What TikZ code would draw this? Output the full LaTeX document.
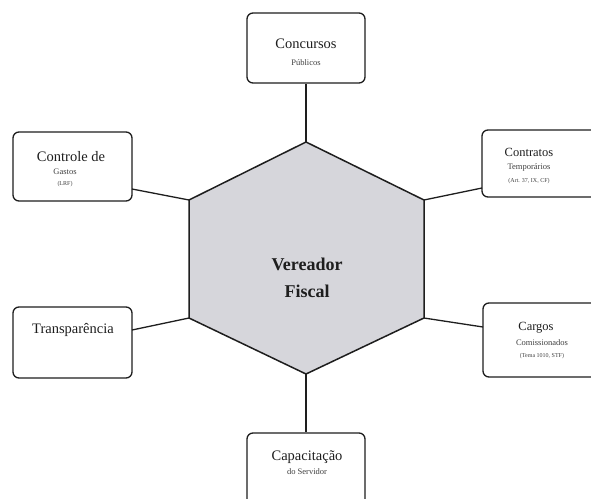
\documentclass[tikz,border=0pt]{standalone}
\usepackage{fontspec}
\setmainfont{Liberation Serif}
\definecolor{hexfill}{RGB}{214,214,219}
\definecolor{ink}{RGB}{30,30,30}
\begin{document}
\begin{tikzpicture}[x=1pt,y=-1pt,
  box/.style={draw=ink, line width=1.3pt, rounded corners=6pt, fill=white, inner sep=0pt},
  link/.style={draw=ink, line width=1.3pt},
  hexa/.style={draw=ink, line width=1.5pt, fill=hexfill, line join=miter},
  big/.style={font=\fontsize{14.5}{16}\selectfont, inner sep=0pt, text=ink},
  bigr/.style={font=\fontsize{12.5}{14}\selectfont, inner sep=0pt, text=ink},
  sub/.style={font=\fontsize{8.5}{10}\selectfont, inner sep=0pt, text=ink!85},
  tiny/.style={font=\fontsize{6}{7}\selectfont, inner sep=0pt, text=ink!85},
  main/.style={font=\bfseries\fontsize{18}{20}\selectfont, inner sep=0pt, text=ink}]
\useasboundingbox (0,0) rectangle (591,498);
\fill[white] (0,0) rectangle (591,498);
\begin{scope}
\clip (0,0) rectangle (591,498);
% hexagon vertices
\coordinate (v1) at (306,142);
\coordinate (v2) at (424,200);
\coordinate (v3) at (424,318);
\coordinate (v4) at (306,374);
\coordinate (v5) at (189,318);
\coordinate (v6) at (189,200);
% boxes
\node[box, minimum width=118pt, minimum height=70pt] (conc) at (306,48) {};
\node[box, minimum width=119pt, minimum height=69pt] (ctrl) at (72.5,166.5) {};
\node[box, minimum width=119pt, minimum height=71pt] (transp) at (72.5,342.5) {};
\node[box, minimum width=118pt, minimum height=67pt] (contr) at (541,163.5) {};
\node[box, minimum width=118pt, minimum height=74pt] (carg) at (542,340) {};
\node[box, minimum width=118pt, minimum height=72pt] (capac) at (306,469) {};
% connector ends on boxes
\coordinate (e1) at (conc.south);
\coordinate (e4) at (capac.north);
\coordinate (e2) at (482,188);
\coordinate (e3) at (483,327);
\coordinate (e5) at (132,330);
\coordinate (e6) at (132,189);
\draw[link] (v1) -- (e1);
\draw[link] (v4) -- (e4);
\draw[link] (v2) -- (e2);
\draw[link] (v3) -- (e3);
\draw[link] (v5) -- (e5);
\draw[link] (v6) -- (e6);
% hexagon
\draw[hexa] (v1) -- (v2) -- (v3) -- (v4) -- (v5) -- (v6) -- cycle;
\node[main] (ver) at (307,264) {Vereador};
\node[main] (fis) at (307,291) {Fiscal};
% texts
\node[big] (t1a) at (306,44) {Concursos};
\node[sub] (t1b) at (306,63) {Públicos};
\node[bigr] (t2a) at (529,152) {Contratos};
\node[sub] (t2b) at (529,167) {Temporários};
\node[tiny] (t2c) at (529,181) {(Art. 37, IX, CF)};
\node[bigr] (t3a) at (536,328) {Cargos};
\node[sub] (t3b) at (542,343) {Comissionados};
\node[tiny] (t3c) at (542,356) {(Tema 1010, STF)};
\node[big] (t4a) at (307,457) {Capacitação};
\node[sub] (t4b) at (307,472) {do Servidor};
\node[big] (t5a) at (71,157) {Controle de};
\node[sub] (t5b) at (65,172) {Gastos};
\node[tiny] (t5c) at (65,184) {(LRF)};
\node[big] (t6a) at (73,330) {Transparência};
\end{scope}
\end{tikzpicture}
\end{document}
